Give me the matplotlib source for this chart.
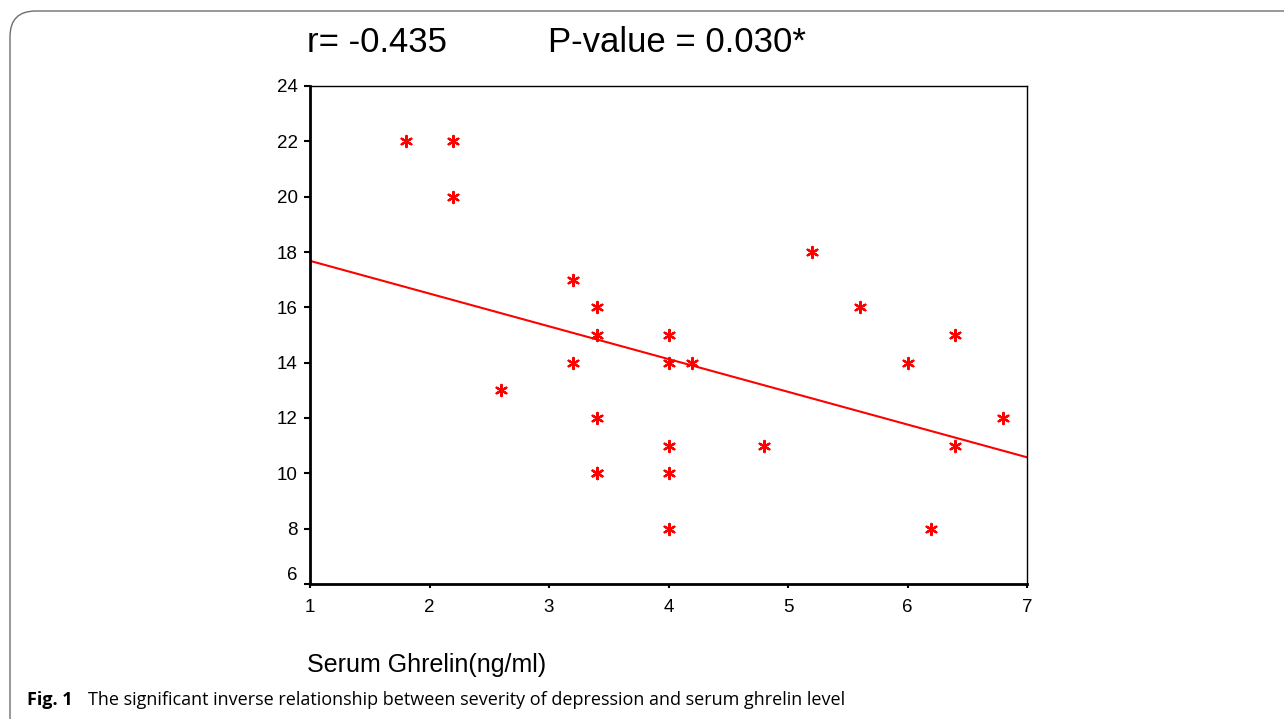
import matplotlib
matplotlib.use("Agg")
import matplotlib.pyplot as plt
from matplotlib.patches import FancyBboxPatch
from matplotlib.transforms import ScaledTranslation

# Data
ghrelin = [1.8, 2.2, 2.2, 2.6, 3.2, 3.2, 3.4, 3.4, 3.4, 3.4, 3.4,
           4.0, 4.0, 4.0, 4.0, 4.0, 4.2, 4.8, 5.2, 5.6, 6.0, 6.2, 6.4, 6.4, 6.8]
severity = [22, 22, 20, 13, 17, 14, 16, 15, 12, 10, 10,
            15, 14, 11, 10, 8, 14, 11, 18, 16, 14, 8, 15, 11, 12]
fit_x = [1, 7]
fit_y = [17.68, 10.58]
x_ticks = [1, 2, 3, 4, 5, 6, 7]
y_ticks = [6, 8, 10, 12, 14, 16, 18, 20, 22, 24]

plt.rcParams['font.family'] = ['Liberation Sans', 'DejaVu Sans']

W, H = 1284, 719
fig = plt.figure(figsize=(W / 100, H / 100), dpi=100)

# outer rounded frame
box = FancyBboxPatch((10 / W, -0.2), 1.5, (H - 11) / H + 0.2,
                     boxstyle="round,pad=0,rounding_size=0.02",
                     transform=fig.transFigure, fill=False,
                     edgecolor='#6e6e6e', linewidth=1.0, mutation_aspect=W / H)
fig.patches.append(box)

ax = fig.add_axes([310 / W, 1 - 584 / H, (1027 - 310) / W, (584 - 86) / H])
ax.scatter(ghrelin, severity, marker=(6, 2, 0), s=65, color='red', linewidths=1.6, zorder=3)
ax.plot(fit_x, fit_y, color='red', linewidth=1.5, zorder=2)

ax.set_xlim(1, 7)
ax.set_ylim(6, 24)
ax.set_xticks(x_ticks)
ax.set_yticks(y_ticks)
ax.tick_params(axis='y', direction='out', length=4, width=1.5, labelsize=13.5, pad=5)
ax.tick_params(axis='x', direction='out', length=3, width=1.5, labelsize=13.5, pad=8)
for s in ['left', 'bottom']:
    ax.spines[s].set_linewidth(2.0)
for s in ['top', 'right']:
    ax.spines[s].set_linewidth(1.0)

# lowest y label sits a little above its tick in the reference
fig.canvas.draw()
for lbl in ax.get_yticklabels():
    if lbl.get_text() == '6':
        lbl.set_transform(lbl.get_transform() + ScaledTranslation(0, 10 / 100, fig.dpi_scale_trans))

fig.text(307 / W, 1 - 42 / H, "r= -0.435", fontsize=25, va='center', ha='left')
fig.text(548 / W, 1 - 42 / H, "P-value = 0.030*", fontsize=25, va='center', ha='left')
fig.text(307 / W, 1 - 665 / H, "Serum Ghrelin(ng/ml)", fontsize=18, va='center', ha='left')

fig.text(27 / W, 1 - 700 / H, "Fig. 1", fontsize=13, fontweight='bold', va='center', ha='left',
         family=['Open Sans', 'DejaVu Sans'])
fig.text(88 / W, 1 - 700 / H,
         "The significant inverse relationship between severity of depression and serum ghrelin level",
         fontsize=13, va='center', ha='left', family=['Open Sans', 'DejaVu Sans'])

fig.savefig("out.png", dpi=100)
